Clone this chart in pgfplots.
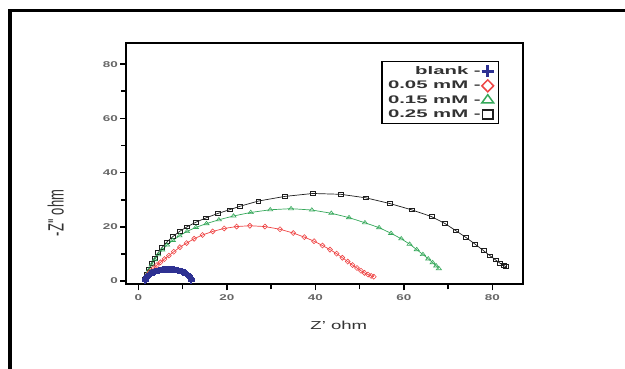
\documentclass[border=0pt]{standalone}
\usepackage{fontspec}
\setsansfont{Liberation Sans}[FakeStretch=1.6]
\newfontfamily\legfont{Liberation Sans}[FakeStretch=1.85]
\newfontfamily\plainsans{Liberation Sans}
\usepackage{graphicx}
\usepackage{pgfplots}
\pgfplotsset{compat=1.18}

\definecolor{blankblue}{HTML}{2E3192}
\definecolor{redc}{HTML}{EE4444}
\definecolor{greenc}{HTML}{35A85A}
\definecolor{blackc}{HTML}{1E1E1E}

\begin{document}
\begin{tikzpicture}[x=1pt,y=1pt]
\useasboundingbox (0,0) rectangle (625,369);
% outer frame
\draw[line width=3.5pt, line join=miter] (10,-5) -- (10,358.5) -- (630,358.5);
\begin{axis}[
  at={(126.4pt,84.7pt)}, anchor=south west,
  scale only axis, width=397pt, height=241pt,
  xmin=-2.7, xmax=87, ymin=-1.2, ymax=87.7,
  axis line style={line width=2pt},
  xtick={0,20,...,80}, ytick={0,20,...,80},
  minor xtick={10,30,50,70}, minor ytick={10,30,50,70},
  tick align=outside, tick pos=left,
  major tick length=6pt, minor tick length=5pt,
  every tick/.style={line width=1.6pt, black},
  tick label style={font=\sffamily\bfseries\fontsize{8.4}{9}\selectfont, text=black!60},
  xticklabel style={yshift=-1pt},
  yticklabel style={xshift=1pt},
  /pgf/number format/assume math mode=true,
  xlabel={Z' ohm},
  xlabel style={at={(axis description cs:0.535,-0.169)}, anchor=center,
    font=\sffamily\fontsize{11.6}{13}\selectfont, text=black!80},
  ylabel={\scalebox{1}[1.7]{\plainsans\fontsize{13}{15}\selectfont -Z'' ohm}},
  ylabel style={at={(axis description cs:-0.178,0.296)}, anchor=center, text=black!80},
  legend cell align=right,
  legend plot pos=right,
  legend image code/.code={\draw[#1, only marks] plot coordinates {(0.3cm,0cm)};},
  legend style={at={(rel axis cs:0.9398,0.9266)}, anchor=north east,
    draw=black, line width=1.5pt, inner xsep=5pt, inner ysep=3.5pt,
    font=\legfont\bfseries\fontsize{11}{12}\selectfont, text=black!80,
    row sep=2.6pt,
    nodes={inner sep=1pt, text height=7.8pt, text depth=1.8pt},
    /tikz/every even column/.style={column sep=3pt}},
]
% 0.25 mM
\addplot[forget plot, blackc, line width=0.7pt, mark=square, mark size=1.9pt,
  mark options={line width=0.6pt, xscale=1.3}] coordinates {
(1.5,0.5) (1.9,2.5) (2.4,4.5) (3.0,6.5) (3.7,8.5) (4.5,10.5) (5.4,12.5) (6.5,14.5)
(7.8,16.4) (9.3,18.3) (11.0,20.0) (13.0,21.7) (15.3,23.3) (17.9,24.9) (20.6,26.3)
(23.0,27.6) (27.1,29.5) (33.0,31.2) (39.4,32.3) (45.7,32.0) (51.4,30.7) (56.8,28.6)
(61.7,26.3) (66.2,23.8) (69.3,21.2) (71.8,18.5) (74.0,16.1) (76.0,13.7) (78.0,11.2)
(79.5,9.3) (80.7,7.8) (81.7,6.6) (82.6,5.7) (83.1,5.3)};
% 0.15 mM
\addplot[forget plot, greenc, line width=0.7pt, mark=triangle, mark size=2.3pt,
  mark options={line width=0.6pt, xscale=1.3}] coordinates {
(1.5,0.5) (1.9,2.3) (2.4,4.1) (3.0,6.0) (3.7,7.9) (4.5,9.7) (5.4,11.5) (6.5,13.3)
(7.8,15.0) (9.3,16.7) (11.0,18.3) (13.0,19.8) (15.4,21.2) (18.2,22.6) (21.5,24.0)
(25.4,25.3) (29.8,26.3) (34.5,26.7) (39.2,26.2) (43.6,25.0) (47.6,23.4) (51.2,21.5)
(54.4,19.7) (57.1,17.6) (59.4,15.6) (61.3,13.6) (62.9,11.6) (64.3,9.8) (65.5,8.2)
(66.5,6.8) (67.3,5.6) (67.9,4.6)};
% 0.05 mM
\addplot[forget plot, redc, line width=0.7pt, mark=diamond, mark size=2.5pt,
  mark options={line width=0.6pt, xscale=1.3}] coordinates {
(1.5,0.9) (2.0,2.2) (2.6,3.4) (3.4,4.7) (4.2,5.9) (5.0,6.9) (5.9,8.1) (6.9,9.4)
(8.0,10.8) (9.4,12.5) (10.9,14.0) (12.6,15.6) (14.5,17.0) (16.8,18.3) (19.4,19.4)
(22.2,20.1) (25.2,20.4) (28.6,20.1) (32.0,19.1) (35.0,17.7) (37.5,16.2) (39.7,14.7)
(41.6,13.1) (43.3,11.6) (44.8,10.1) (46.1,8.6) (47.3,7.2) (48.4,5.9) (49.4,4.8)
(50.3,3.8) (51.1,3.0) (51.9,2.4) (52.6,1.9) (53.2,1.6)};
% blank
\addplot[forget plot, blankblue, line width=2.6pt, mark=+, mark size=3.4pt,
  mark options={line width=2pt}] coordinates {
(1.60,0.00) (1.64,0.38) (1.68,0.75) (1.80,1.11) (1.91,1.47) (2.10,1.81) (2.30,2.15)
(2.56,2.46) (2.82,2.76) (3.14,3.03) (3.46,3.29) (3.83,3.51) (4.20,3.72) (4.61,3.88)
(5.02,4.04) (5.46,4.14) (5.90,4.24) (6.35,4.27) (6.80,4.30) (7.25,4.27) (7.70,4.24)
(8.14,4.14) (8.58,4.04) (8.99,3.88) (9.40,3.72) (9.77,3.51) (10.14,3.29) (10.46,3.03)
(10.78,2.76) (11.04,2.46) (11.30,2.15) (11.50,1.81) (11.69,1.47) (11.81,1.11)
(11.92,0.75) (11.96,0.38) (12.00,0.00)};
% legend entries
\addlegendimage{blankblue, mark=+, mark size=6pt, line width=2.6pt}
\addlegendentry{blank -}
\addlegendimage{redc, mark=diamond, mark size=6pt, line width=1.5pt, mark options={xscale=1.3}}
\addlegendentry{0.05 mM -}
\addlegendimage{greenc, mark=triangle, mark size=5.5pt, line width=1.5pt, mark options={xscale=1.25}}
\addlegendentry{0.15 mM -}
\addlegendimage{blackc, mark=square, mark size=4.5pt, line width=1.3pt, mark options={xscale=1.15}}
\addlegendentry{0.25 mM -}
\end{axis}
\end{tikzpicture}
\end{document}
